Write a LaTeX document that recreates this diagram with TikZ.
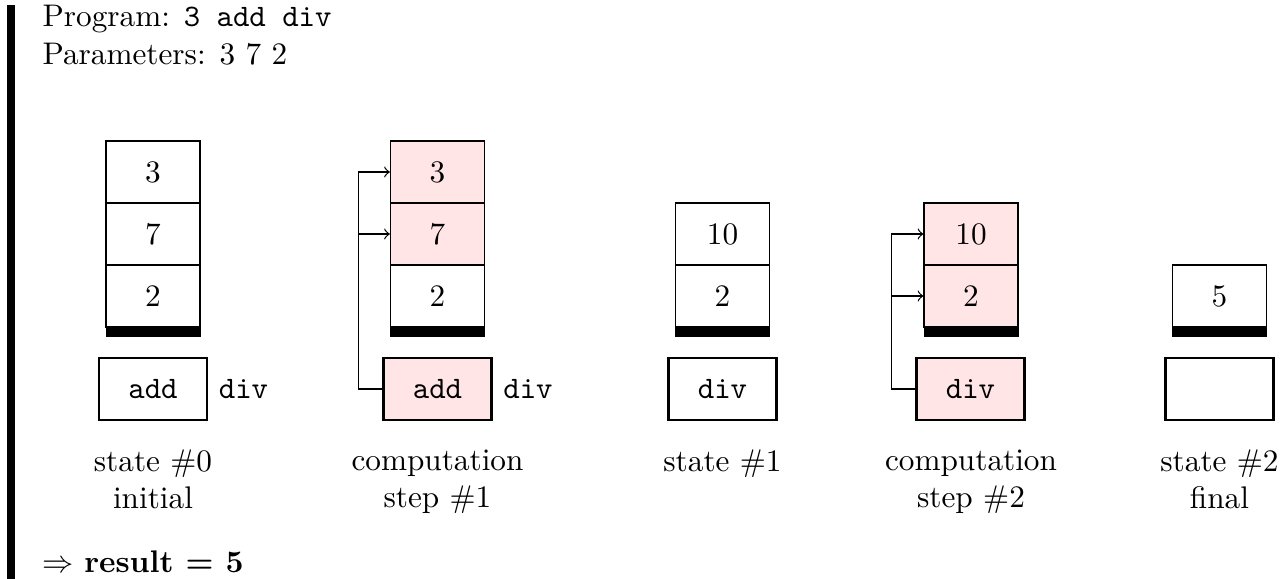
\documentclass[tikz,border=0pt]{standalone}
\usetikzlibrary{calc}
\begin{document}
\begin{tikzpicture}[x=0.32pt,y=-0.32pt,
  cell/.style={draw, line width=0.4pt, minimum width=30.08pt, minimum height=19.84pt, inner sep=0pt},
  hot/.style={fill=red!10},
  bottom/.style={fill=black, draw=black, line width=0pt, minimum width=30.08pt, minimum height=3.2pt, inner sep=0pt},
  prog/.style={draw, line width=0.8pt, minimum width=34.56pt, minimum height=19.84pt, inner sep=0pt, font=\ttfamily},
  rest/.style={anchor=base west, inner sep=0pt, font=\ttfamily},
  caption/.style={align=center, inner sep=0pt, anchor=north},
  plain/.style={anchor=base west, inner sep=0pt},
  feed/.style={->, line width=0.4pt}]
\useasboundingbox (0,0) rectangle (1286,579);
\fill (7,5) rectangle (15,579);
\node[plain] (t1) at (42,27) {Program: \texttt{3 add div}};
\node[plain] (t2) at (42,65) {Parameters: 3 7 2};
% state 0
\node[cell] (a1) at (153,172) {3};
\node[cell] (a2) at (153,234) {7};
\node[cell] (a3) at (153,296) {2};
\node[bottom] (ab) at (153,332) {};
\node[prog] (ap) at (153,389) {add};
\node[rest] (ar) at ([xshift=3.2pt]ap.east |- ap.base) {div};
\node[caption] (al) at (153,449) {state \#0\\initial};
% step 1
\node[cell,hot] (b1) at (437.5,172) {3};
\node[cell,hot] (b2) at (437.5,234) {7};
\node[cell] (b3) at (437.5,296) {2};
\node[bottom] (bb) at (437.5,332) {};
\node[prog,hot] (bp) at (437.5,389) {add};
\node[rest] (br) at ([xshift=3.2pt]bp.east |- bp.base) {div};
\node[caption] (bl) at (437.5,449) {computation\\step \#1};
\draw[feed] (bp.west) -- ++(-24,0) |- (b1.west);
\draw[feed] (bp.west) -- ++(-24,0) |- (b2.west);
% state 1
\node[cell] (c1) at (722.5,234) {10};
\node[cell] (c2) at (722.5,296) {2};
\node[bottom] (cb) at (722.5,332) {};
\node[prog] (cp) at (722.5,389) {div};
\node[caption] (cl) at (722.5,449) {state \#1};
% step 2
\node[cell,hot] (d1) at (971,234) {10};
\node[cell,hot] (d2) at (971,296) {2};
\node[bottom] (db) at (971,332) {};
\node[prog,hot] (dp) at (970.5,389) {div};
\node[caption] (dl) at (971,449) {computation\\step \#2};
\draw[feed] (dp.west) -- ++(-24,0) |- (d1.west);
\draw[feed] (dp.west) -- ++(-24,0) |- (d2.west);
% state 2
\node[cell] (e1) at (1219.5,296) {5};
\node[bottom] (eb) at (1219.5,332) {};
\node[prog] (ep) at (1219.5,389) {\phantom{div}};
\node[caption] (el) at (1219.5,449) {state \#2\\final};
\node[plain] (res) at (42,572) {$\Rightarrow$ \textbf{result = 5}};
\end{tikzpicture}
\end{document}
